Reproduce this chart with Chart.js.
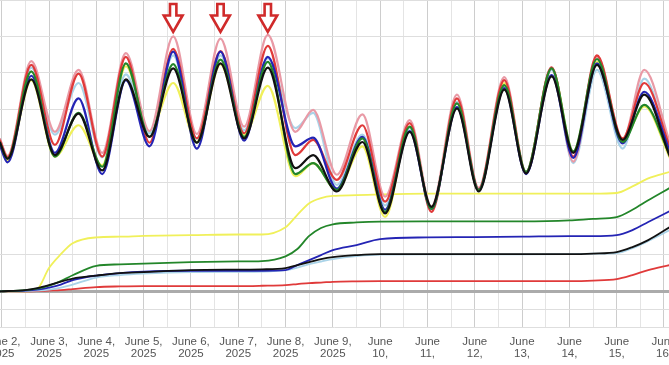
<!DOCTYPE html>
<html><head><meta charset="utf-8">
<script src="https://cdn.jsdelivr.net/npm/chart.js@4.4.1/dist/chart.umd.min.js"></script>
<style>html,body{margin:0;padding:0;background:#fff;overflow:hidden;}canvas{display:block;}</style>
</head><body>
<canvas id="c" width="669" height="365"></canvas>
<script>
// Hours since June 2, 2025 00:00
const tempHours = [-1,3,15,27,39,51,63,75,87,99,111,123,135,149,158,170,183,194.5,207,218,231,242,255,266,279,290,302,315,326,339];
// Temperature (°F) per model
const tempBlack = [70.5,68.2,79.1,68.7,74.4,66.6,79.1,71.2,80.6,70.4,81.3,71.0,80.7,66.9,68.7,63.7,70.5,60.7,71.9,61.6,75.1,63.7,77.7,66.2,79.5,69.0,81.1,70.8,77.0,68.5];
const tempGreen = [70.5,68.2,80.2,68.5,74.5,67.1,81.3,71.2,81.2,70.4,81.8,71.2,81.5,66.1,67.6,63.9,71.0,60.9,72.6,61.3,75.8,63.9,78.3,66.4,80.6,69.2,81.9,70.5,75.6,68.7];
const tempBlue = [70.1,67.7,79.6,69.0,76.5,66.1,79.0,69.9,82.9,69.6,82.9,70.7,82.2,69.9,71.1,64.1,71.2,61.2,72.0,61.3,75.3,63.9,77.9,66.1,79.7,68.3,81.3,70.3,77.4,69.2];
const tempRed = [70.8,68.4,81.1,70.1,79.9,68.5,82.2,70.4,83.3,71.0,83.0,71.7,83.7,68.7,70.8,65.3,72.8,62.3,73.1,60.9,76.5,64.0,79.0,66.2,80.7,68.5,82.4,71.0,78.6,69.8];
const tempPink = [71.0,68.6,81.6,71.9,80.4,69.0,82.7,72.0,85.0,71.6,84.7,72.6,85.2,71.9,74.9,66.0,74.3,63.0,73.5,61.6,77.0,64.2,79.4,66.4,80.8,67.8,82.2,70.8,80.4,70.4];
const tempLightBlue = [71.0,68.4,80.7,71.5,78.6,68.4,79.8,71.7,82.4,71.0,82.4,72.1,82.0,72.4,74.5,64.6,71.5,61.8,72.4,61.4,76.0,64.0,78.2,66.4,80.4,67.6,80.4,69.6,79.2,69.4];
const tempYellow = [70.1,68.0,79.0,68.5,72.8,67.3,80.9,71.9,78.6,70.5,81.2,71.5,78.2,65.8,67.6,63.9,69.9,60.2,72.6,61.4,76.0,63.9,78.6,66.4,80.6,69.2,81.5,70.8,75.4,68.3];

const precipHours = [-1,12,18,24,30,36,48,60,72,96,120,132,144,150,156,162,168,180,192,216,240,264,288,300,312,320,328,339];
// Accumulated precipitation (in) per model
const precipYellow = [0,0,0.03,0.32,0.51,0.66,0.74,0.75,0.76,0.77,0.78,0.78,0.88,1.05,1.21,1.28,1.31,1.32,1.33,1.34,1.34,1.34,1.34,1.34,1.35,1.44,1.55,1.64];
const precipGreen = [0,0.016,0.037,0.078,0.14,0.22,0.35,0.37,0.38,0.40,0.41,0.415,0.48,0.58,0.76,0.87,0.92,0.945,0.957,0.96,0.96,0.96,0.973,0.995,1.02,1.12,1.25,1.42];
const precipBlue = [0,0.01,0.023,0.051,0.092,0.154,0.216,0.25,0.27,0.282,0.282,0.282,0.291,0.36,0.429,0.497,0.566,0.635,0.717,0.74,0.745,0.751,0.758,0.758,0.772,0.841,0.951,1.102];
const precipBlack = [0,0.016,0.044,0.085,0.133,0.174,0.216,0.25,0.264,0.291,0.298,0.301,0.319,0.36,0.401,0.442,0.47,0.497,0.511,0.511,0.511,0.511,0.511,0.518,0.538,0.607,0.703,0.882];
const precipLightBlue = [0,0.003,0.01,0.023,0.051,0.092,0.188,0.223,0.243,0.264,0.268,0.271,0.291,0.326,0.374,0.408,0.442,0.484,0.504,0.507,0.507,0.507,0.511,0.518,0.525,0.593,0.69,0.841];
const precipRed = [0,0,0.003,0.01,0.016,0.03,0.058,0.067,0.071,0.071,0.071,0.076,0.085,0.099,0.113,0.12,0.13,0.137,0.14,0.14,0.14,0.14,0.14,0.147,0.168,0.223,0.291,0.36];

const tickHours = [0,12,24,36,48,60,72,84,96,108,120,132,144,156,168,180,192,204,216,228,240,252,264,276,288,300,312,324,336];
const tempTicks = [45,47.5,50,55,60,65,70,75,80,85,90];
const arrowHours = [87,111,135];

const COLORS = {black:'#111111', green:'#23862a', blue:'#2424b4', red:'#e03a3a', pink:'#e99aa6', lightBlue:'#a9d3e8', yellow:'#f0f05a'};

function series(hours, vals){ return hours.map((h,i)=>({x:h,y:vals[i]})); }
function tempDs(vals,color){ return {data:series(tempHours,vals),borderColor:color,borderWidth:2.2,pointRadius:0,cubicInterpolationMode:'monotone',yAxisID:'y',fill:false}; }
function precDs(vals,color){ return {data:series(precipHours,vals),borderColor:color,borderWidth:1.8,pointRadius:0,cubicInterpolationMode:'monotone',yAxisID:'p',fill:false}; }

const arrowPlugin = {
  id:'arrows',
  afterDatasetsDraw(chart){
    const {ctx, chartArea, scales} = chart;
    ctx.save();
    arrowHours.forEach(h=>{
      const cx = scales.x.getPixelForValue(h);
      const top = chartArea.top + 4;
      const sw = 3.2, hw = 9.4, sh = 11.5, hh = 16.3;
      ctx.beginPath();
      ctx.moveTo(cx-sw, top); ctx.lineTo(cx+sw, top); ctx.lineTo(cx+sw, top+sh);
      ctx.lineTo(cx+hw, top+sh); ctx.lineTo(cx, top+sh+hh); ctx.lineTo(cx-hw, top+sh);
      ctx.lineTo(cx-sw, top+sh); ctx.closePath();
      ctx.fillStyle='#ffffff'; ctx.fill();
      ctx.lineWidth=2.6; ctx.strokeStyle='#d02a2a'; ctx.lineJoin='miter'; ctx.stroke();
    });
    ctx.restore();
  }
};

new Chart(document.getElementById('c'), {
  type:'line',
  data:{datasets:[
    tempDs(tempBlack,COLORS.black), tempDs(tempGreen,COLORS.green), tempDs(tempBlue,COLORS.blue),
    tempDs(tempRed,COLORS.red), tempDs(tempPink,COLORS.pink), tempDs(tempLightBlue,COLORS.lightBlue), tempDs(tempYellow,COLORS.yellow),
    precDs(precipBlack,COLORS.black), precDs(precipGreen,COLORS.green), precDs(precipBlue,COLORS.blue),
    precDs(precipLightBlue,COLORS.lightBlue), precDs(precipRed,COLORS.red), precDs(precipYellow,COLORS.yellow)
  ]},
  options:{
    responsive:false, animation:false, events:[],
    layout:{padding:0},
    plugins:{legend:{display:false}, tooltip:{enabled:false}},
    scales:{
      x:{type:'linear', min:-0.86, max:338.54,
        afterBuildTicks(s){ s.ticks = tickHours.map(v=>({value:v})); },
        afterFit(s){ s.paddingLeft=0; s.paddingRight=0; s.height=37.3; },
        grid:{drawTicks:false, color:c=> (c.tick && c.tick.value%24===0) ? '#cdcdcd' : '#e4e4e4', lineWidth:1},
        border:{display:false},
        ticks:{autoSkip:false, maxRotation:0, minRotation:0, padding:7.5, color:'#555',
          font:{family:'"Liberation Sans", Arial, sans-serif', size:11.5, lineHeight:'12.6px'},
          callback(v){ if(v%24!==0) return ''; const d=2+v/24; return d<10 ? ['June '+d+',','2025'] : ['June', d+',']; }
        }
      },
      y:{min:45, max:90, position:'left',
        afterBuildTicks(s){ s.ticks = tempTicks.map(v=>({value:v})); },
        afterFit(s){ s.width=0; s.paddingTop=0; s.paddingBottom=0; },
        grid:{drawTicks:false, color:c=> (c.tick && c.tick.value===50) ? '#ababab' : '#dedede', lineWidth:c=> (c.tick && c.tick.value===50) ? 3 : 1},
        border:{display:false},
        ticks:{display:false}
      },
      p:{display:false, min:-0.5, max:4.0}
    }
  },
  plugins:[arrowPlugin]
});
</script>
</body></html>
